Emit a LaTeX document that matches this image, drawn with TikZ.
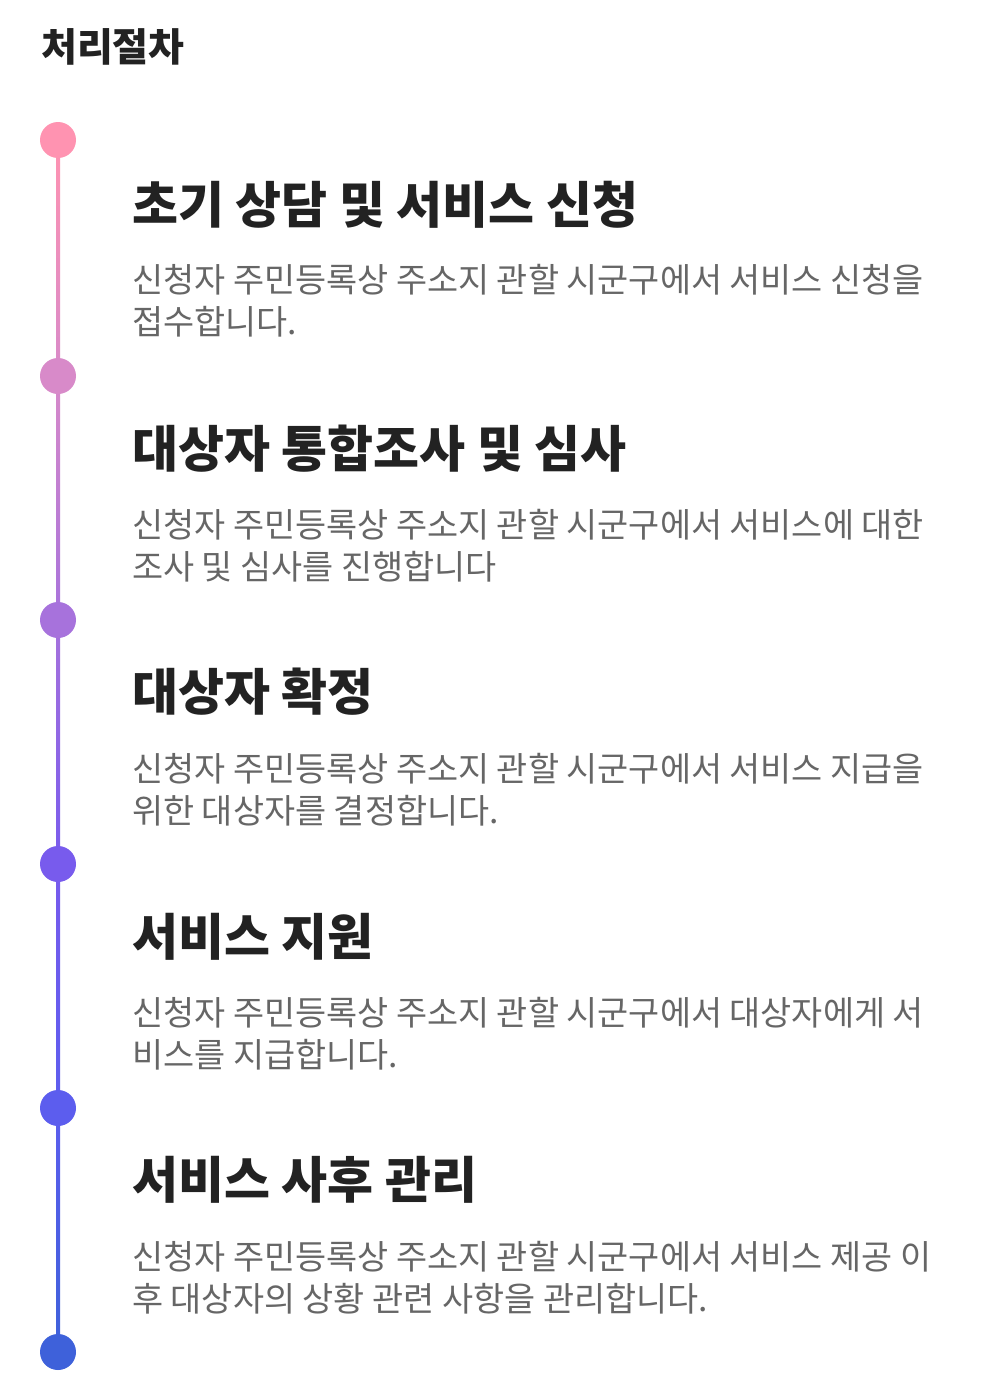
\documentclass[tikz,border=0pt]{standalone}
\usepackage{fontspec}
\setmainfont{Noto Sans CJK KR}
\definecolor{c1}{HTML}{FF93B1}
\definecolor{c2}{HTML}{D88AC9}
\definecolor{c3}{HTML}{A772DC}
\definecolor{c4}{HTML}{785BED}
\definecolor{c5}{HTML}{5C5DEE}
\definecolor{c6}{HTML}{3E61DA}
\definecolor{headc}{HTML}{222222}
\definecolor{bodyc}{HTML}{666666}
\tikzset{
  dot/.style={circle,inner sep=0pt,minimum size=36pt},
  heading/.style={anchor=base west,inner sep=0pt,text=headc,font=\fontsize{50}{58}\selectfont\bfseries},
  bodyline/.style={anchor=base west,inner sep=0pt,text=bodyc,font=\fontsize{33.8}{42}\selectfont},
  maintitle/.style={anchor=base west,inner sep=0pt,text=headc,font=\fontsize{39}{46}\selectfont\bfseries}
}
\begin{document}
\begin{tikzpicture}[x=1pt,y=-1pt]
\useasboundingbox[fill=white] (0,0) rectangle (982,1381);
\node[maintitle] (title) at (41,62) {처리절차};
% timeline segments
\foreach \ya/\yb/\ca/\cb in {140/376/c1/c2,376/620/c2/c3,620/864/c3/c4,864/1108/c4/c5,1108/1352/c5/c6}{
  \shade[top color=\ca,bottom color=\cb] (56,\ya) rectangle (60,\yb);
}
\node[dot,fill=c1] (p1) at (58,140) {};
\node[dot,fill=c2] (p2) at (58,376) {};
\node[dot,fill=c3] (p3) at (58,620) {};
\node[dot,fill=c4] (p4) at (58,864) {};
\node[dot,fill=c5] (p5) at (58,1108) {};
\node[dot,fill=c6] (p6) at (58,1352) {};
% sections
\node[heading] (h1) at (132,223) {초기 상담 및 서비스 신청};
\node[bodyline] (b1a) at (132,292) {신청자 주민등록상 주소지 관할 시군구에서 서비스 신청을};
\node[bodyline] (b1b) at (132,334) {접수합니다.};
\node[heading] (h2) at (132,467) {대상자 통합조사 및 심사};
\node[bodyline] (b2a) at (132,537) {신청자 주민등록상 주소지 관할 시군구에서 서비스에 대한};
\node[bodyline] (b2b) at (132,579) {조사 및 심사를 진행합니다};
\node[heading] (h3) at (132,710) {대상자 확정};
\node[bodyline] (b3a) at (132,781) {신청자 주민등록상 주소지 관할 시군구에서 서비스 지급을};
\node[bodyline] (b3b) at (132,823) {위한 대상자를 결정합니다.};
\node[heading] (h4) at (132,955) {서비스 지원};
\node[bodyline] (b4a) at (132,1025) {신청자 주민등록상 주소지 관할 시군구에서 대상자에게 서};
\node[bodyline] (b4b) at (132,1067) {비스를 지급합니다.};
\node[heading] (h5) at (132,1198) {서비스 사후 관리};
\node[bodyline] (b5a) at (132,1269) {신청자 주민등록상 주소지 관할 시군구에서 서비스 제공 이};
\node[bodyline] (b5b) at (132,1311) {후 대상자의 상황 관련 사항을 관리합니다.};
\end{tikzpicture}
\end{document}
